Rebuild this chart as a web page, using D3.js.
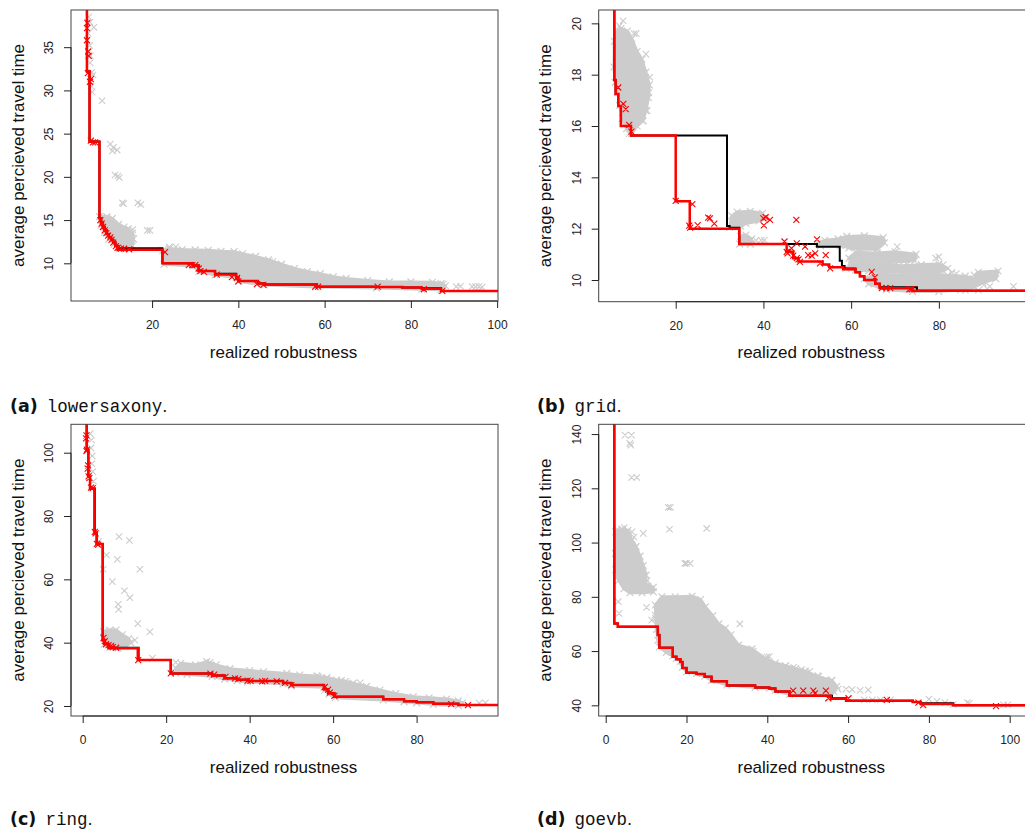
<!DOCTYPE html>
<html>
<head>
<meta charset="utf-8">
<script src="https://cdn.jsdelivr.net/npm/d3@7"></script>
<style>
  html, body { margin: 0; padding: 0; background: #fff; }
  svg { display: block; }
  .tick text { font-family: "Liberation Sans", Arial, sans-serif; font-size: 12px; fill: #222; }
</style>
</head>
<body>
<svg id="fig" width="1025" height="834"></svg>
<script>
// ---------- (a) lowersaxony ----------
const aRed = [[4.9,45],[4.9,32.2],[5.5,24.07],[7.8,15.2],[8.2,14.7],[8.6,14.2],[9.0,13.8],[9.5,13.4],[10.0,13.0],[10.5,12.7],[11.0,12.4],[11.5,12.0],[12.0,11.58],[22.4,10.0],[29.5,9.75],[30.8,9.1],[34.6,8.7],[39.5,8.4],[40.0,7.95],[44.5,7.65],[46.0,7.55],[58.2,7.3],[72.0,7.25],[78.0,7.2],[82.5,7.05],[87.0,6.8],[105,6.8]];
const aBlack = [[4.9,45],[4.9,32.2],[5.5,24.1],[7.8,15.2],[8.2,14.7],[8.6,14.2],[9.0,13.8],[9.5,13.4],[10.0,13.0],[10.5,12.7],[11.0,12.4],[11.5,12.0],[12.0,11.75],[22.4,10.0],[29.5,9.75],[30.8,9.1],[34.6,8.78],[39.5,8.4],[40.0,7.95],[44.5,7.65],[46.0,7.55],[58.2,7.3],[72.0,7.25],[78.0,7.2],[82.5,7.12],[87.0,6.8],[105,6.8]];
const aRedPts = [[5.0,37.8],[4.9,37.2],[4.9,35.8],[5.2,34.5],[5.3,34.0],[5.1,32.0],[5.6,31.0],[5.8,31.3],[5.8,24.2],[6.3,24.0],[6.8,24.0],[8.0,15.0],[8.3,14.6],[8.6,14.2],[9.0,13.8],[9.4,13.5],[9.8,13.2],[10.3,13.0],[10.6,12.7],[11.0,12.4],[11.6,12.0],[12.0,11.8],[12.8,11.7],[13.5,11.7],[14.7,11.6],[23.0,11.3],[28.5,9.8],[29.3,9.8],[30.0,9.8],[30.8,9.4],[31.2,9.1],[32.0,9.0],[35.0,8.7],[38.5,8.4],[39.7,8.3],[40.0,7.9],[44.3,7.6],[45.8,7.5],[57.8,7.3],[58.5,7.3],[72.3,7.3],[83.0,7.0],[87.3,6.8]];
const aGray = [[5.3,38.5],[5.6,37.9],[6.5,37.3],[5.2,36.6],[5.5,35.2],[5.7,34.0],[5.6,33.2],[6.0,32.1],[6.3,31.8],[5.9,30.5],[6.1,29.8],[8.4,28.8],[10.3,23.8],[11.0,23.4],[10.8,23.0],[11.9,23.1],[11.4,20.2],[12.1,20.1],[12.4,19.9],[13.1,17.0],[13.4,16.9],[16.7,17.0],[17.4,16.8],[18.9,13.8],[19.5,13.8],[15.5,13.9],[15.0,13.7],[47.2,10.2],[48.0,10.2],[24.0,11.9],[25.5,11.9],[83.5,7.3],[86.8,7.5],[87.5,7.6],[90.5,7.3],[91.5,7.35],[94.2,7.3],[95.0,7.3],[95.8,7.3],[96.5,7.25],[13.0,13.8]];
const aClouds = [
  [[7.8,15.4],[9.5,15.4],[10.8,15.2],[12.2,14.5],[13.5,14.2],[14.5,14.0],[15.5,13.5],[15.7,12.8],[15.4,12.0],[14.5,11.7],[12.5,11.7],[11.2,12.2],[10.0,12.8],[9.0,13.6],[8.2,14.4]],
  [[22.5,11.5],[24,11.7],[27,11.6],[30,11.55],[33,11.5],[36,11.4],[39,11.35],[41,11.1],[44,10.8],[47,10.4],[50,9.9],[53,9.4],[56,9.05],[59,8.8],[62,8.45],[65,8.25],[70,8.0],[75,7.85],[80,7.85],[85,7.8],[87,7.65],[88,7.4],[87,6.9],[82.5,7.0],[72,7.15],[58,7.25],[46,7.5],[44.5,7.6],[40,7.9],[39.5,8.35],[34.6,8.65],[30.8,9.05],[29.5,9.7],[22.8,9.9]]
];

// ---------- (b) grid ----------
const bRed = [[6.0,22],[6.0,17.79],[6.3,17.25],[6.9,16.78],[7.5,16.0],[9.8,15.63],[20.0,13.07],[23.2,12.0],[34.5,11.4],[45.3,11.1],[46.8,10.85],[48.0,10.72],[53.5,10.6],[55.0,10.5],[58.2,10.42],[61.0,10.3],[62.0,10.15],[63.0,10.0],[65.5,9.85],[66.5,9.68],[74.0,9.58],[105,9.58]];
const bBlack = [[6.0,22],[6.0,17.79],[6.3,17.25],[6.9,16.78],[7.5,16.0],[9.8,15.63],[31.7,12.1],[32.3,12.04],[34.5,11.4],[52.2,11.3],[57.4,10.75],[57.9,10.55],[58.5,10.45],[61.0,10.3],[62.0,10.15],[63.0,10.0],[65.5,9.85],[66.5,9.72],[75.0,9.58],[105,9.58]];
const bRedPts = [[6.9,17.5],[8.05,16.86],[8.6,16.66],[9.4,16.04],[9.9,15.78],[20.0,13.08],[23.8,12.96],[23.1,12.12],[23.3,12.04],[25.0,12.14],[27.4,12.43],[27.8,12.4],[28.8,12.2],[40.0,12.4],[40.5,12.45],[41.5,12.34],[40.1,12.13],[44.8,11.5],[45.5,11.04],[45.3,11.1],[46.4,11.23],[47.6,11.43],[47.6,10.85],[48.3,10.71],[49.5,11.3],[50.2,10.97],[51.0,10.95],[51.8,11.04],[52.2,11.58],[52.9,10.65],[54.2,10.97],[55.2,10.45],[47.5,12.34],[46.8,10.95],[48.0,10.8],[64.7,10.32],[65.4,10.1],[67.0,9.68],[68.0,9.68],[68.9,9.68],[73.3,9.64],[73.8,9.64]];
const bGray = [[8.0,20.1],[7.2,19.9],[10.5,19.6],[11.0,19.6],[13.2,18.8],[14.1,17.9],[13.9,17.3],[13.5,16.6],[12.6,16.2],[6.4,19.2],[9.4,15.7],[38.3,11.55],[39.5,11.55],[40.2,11.55],[70.5,11.3],[73.0,10.65],[77.5,10.4],[79.3,10.85],[80.0,10.9],[81.0,10.6],[83.0,10.3],[84.0,10.25],[88.0,10.2],[90.2,9.8],[91.6,9.75],[97.0,9.75],[80.5,10.2],[86.0,9.6],[89.0,9.6],[76.0,9.7]];
const bClouds = [
  [[6.0,19.3],[6.6,19.7],[7.5,19.8],[9.0,19.7],[10.0,19.4],[11.2,18.9],[12.3,18.6],[13.2,18.1],[14.0,17.6],[13.8,17.1],[13.2,16.6],[12.5,16.2],[11.2,16.0],[10.0,15.7],[8.8,15.9],[7.8,16.3],[7.2,16.8],[6.8,17.3],[6.2,17.7],[5.9,18.3]],
  [[32.3,12.05],[32.8,12.5],[34,12.65],[37,12.68],[39.8,12.6],[40.3,12.4],[39,12.3],[36,12.2],[34.8,12.1]],
  [[34.6,11.4],[34.8,11.7],[36,11.75],[37.3,11.6],[37,11.4]],
  [[52.5,11.42],[54,11.55],[57,11.6],[59,11.7],[63,11.72],[67.3,11.65],[67.6,11.45],[66,11.2],[62,11.2],[59.5,11.25],[57.5,11.35],[53,11.33]],
  [[59.5,10.85],[61,11.08],[66,11.05],[70,11.1],[74.8,11.0],[74.5,10.75],[70,10.7],[64,10.78],[60,10.72]],
  [[58.8,10.45],[60,10.6],[63,10.68],[68,10.62],[72,10.55],[76,10.6],[80,10.62],[82,10.45],[80,10.3],[72,10.3],[64,10.35],[61,10.38]],
  [[63,10.05],[66,10.22],[72,10.2],[78,10.22],[82,10.18],[86,10.15],[88,10.05],[89,10.3],[93.5,10.35],[93,10.05],[90,9.9],[88,9.72],[85,9.62],[80,9.55],[74,9.55],[68,9.62],[64,9.85]]
];

// ---------- (c) ring ----------
const cRed = [[0.96,120],[0.96,100.8],[1.35,92.4],[1.75,88.7],[2.8,74.5],[3.35,71.2],[4.8,40.8],[5.2,39.6],[6.2,38.2],[13.2,34.5],[21.1,30.3],[31.0,29.6],[34.0,28.8],[37.0,28.3],[39.5,27.9],[48.0,27.3],[50.0,26.6],[57.8,25.3],[58.8,24.0],[60.3,22.9],[72.0,22.1],[77.0,21.5],[80.0,21.2],[84.0,20.7],[90.0,20.3],[105,20.3]];
const cBlack = [[0.96,120],[0.96,100.8],[1.35,92.4],[1.75,88.7],[2.9,74.8],[3.35,71.2],[4.8,40.8],[5.2,39.6],[6.2,38.4],[13.4,34.5],[21.1,30.3],[31.0,29.6],[34.0,28.8],[37.0,28.3],[39.5,27.9],[48.0,27.3],[50.0,26.6],[57.8,25.3],[58.8,24.0],[60.3,22.9],[72.0,22.1],[77.0,21.5],[80.0,21.2],[84.0,20.7],[90.0,20.3],[105,20.3]];
const cRedPts = [[0.9,105.5],[0.8,104.5],[1.0,101],[0.9,100.5],[1.3,96],[1.2,95],[1.4,92.5],[1.6,92],[2.0,89],[2.4,88.8],[2.9,75],[3.1,74.5],[3.4,71.2],[3.7,71],[5.0,41.5],[5.3,40.5],[5.6,39.5],[6.2,39.2],[6.8,39.0],[7.2,38.6],[8.0,38.4],[13.3,34.5],[21.1,30.3],[30.6,30.2],[31.5,29.9],[34.2,29.2],[36.5,28.7],[37.3,28.6],[39.5,28.0],[40.2,27.9],[43.0,27.8],[43.7,27.9],[46.5,27.8],[48.5,27.3],[50.0,26.6],[58.0,26.0],[58.8,25.2],[59.2,24.2],[60.3,23.2],[88.3,20.6],[92.3,20.3]];
const cGray = [[1.8,106],[2.1,104],[2.0,101.5],[2.3,99],[2.2,96.5],[2.4,94],[2.6,91],[8.7,73.5],[11.2,72.3],[8.3,66.3],[5.7,67.7],[13.7,63.2],[4.9,63.2],[7.1,59.3],[10.0,56.4],[11.3,54.2],[8.5,52.1],[8.6,50.5],[13.2,46.0],[16.1,43.4],[12.5,40.8],[16.7,35.1],[22.3,33.8],[3.9,72.0],[30.5,33.8],[56.5,29.3],[58.5,28.8],[62.0,28.1],[66.5,27.3],[77.0,21.5],[80.0,21.5],[83.5,22.0],[87.0,21.6],[95.0,20.9],[96.5,21.0]];
const cClouds = [
  [[5,43.5],[6.5,44],[8,44],[9.5,42.5],[11,41.3],[11.5,40],[10.5,39.0],[8.5,38.3],[6.5,38.5],[5.2,39.5]],
  [[22.3,32.0],[23.5,33.5],[27,33.0],[29.7,34.0],[32,33.0],[35.3,31.8],[40,31.2],[43.3,30.8],[48.9,30.3],[52,29.8],[56.1,29.5],[58.5,29.0],[60.8,28.2],[63,27.8],[64.8,27.2],[68,26.2],[71.2,25.05],[75,23.9],[79.2,22.9],[83,22.6],[87.2,22.2],[90,21.6],[91,21.0],[90,20.1],[84,20.5],[80,21.0],[77,21.3],[72,21.9],[60.5,22.6],[59,23.7],[58,25.0],[57.8,25.9],[50,26.3],[48,27.0],[39.5,27.6],[37,28.0],[34,28.5],[31,29.3],[25,30.0],[22.3,30.4]]
];

// ---------- (d) goevb ----------
const dRed = [[2.13,160],[2.13,70.2],[3.0,69.0],[12.9,65.9],[13.3,61.2],[16.6,57.9],[17.5,57.0],[18.5,56.0],[19.0,53.8],[20.0,52.0],[22.5,51.5],[24.5,50.5],[26.2,48.9],[30.0,47.3],[37.0,46.6],[40.5,46.2],[42.0,45.1],[45.5,43.5],[55.7,42.4],[59.5,41.7],[76.0,41.2],[78.0,40.5],[86.0,40.0],[110,40.0]];
const dBlack = [[2.13,160],[2.13,70.2],[3.0,69.0],[12.9,65.9],[13.3,61.2],[16.6,57.9],[17.5,57.0],[18.5,56.0],[19.0,53.8],[20.0,52.0],[22.5,51.5],[24.5,50.5],[26.2,48.9],[30.0,47.3],[37.0,46.6],[40.5,46.2],[42.0,45.1],[45.5,43.5],[56.0,42.6],[59.5,41.7],[76.0,41.2],[78.0,40.8],[86.0,40.0],[110,40.0]];
const dRedPts = [[46.4,45.4],[48.9,45.4],[51.4,45.4],[51.8,44.4],[54.5,45.4],[55.1,42.6],[60.1,42.6],[69.6,42.0],[77.4,41.0],[78.6,40.1],[96.6,39.7]];
const dGray = [[4.8,139.6],[6.4,139.6],[6.0,136.6],[6.2,135.9],[6.4,124.0],[7.7,124.0],[15.5,113.0],[16.0,113.0],[15.8,104.9],[25.0,105.2],[19.6,92.3],[20.0,92.3],[20.9,92.3],[9.3,103.4],[3.1,78.2],[3.3,73.9],[10.1,76.1],[11.4,71.4],[12.2,73.3],[33.2,70.0],[35.3,60.4],[36.5,60],[39.9,57.9],[40.5,58],[32.5,61.7],[44.5,54.5],[46.5,54],[48.5,53.2],[50.5,52.5],[52.5,51],[54.5,49.5],[55.8,49],[57.5,46],[59.5,46],[61,45.8],[63,45.5],[65,45.7],[64,42.0],[66,42.0],[68,42.0],[70.5,42.0],[80,42.3],[82,41.5],[84,41.0],[86,40.3],[89.5,41.0],[90,40.7],[98.5,40.2],[99.5,40.2],[9.5,88],[10.2,86],[10.5,84],[2.8,104.8],[4.6,105.5],[6.5,104],[7.0,102]];
const dClouds = [
  [[2.5,104],[4.0,105],[5.5,104.5],[6.5,101],[7.5,98.5],[8.5,95],[9.3,91.5],[10,88],[9.8,85],[11.8,83.5],[11.8,81.8],[9,81.5],[6,81.5],[4.5,83],[3.2,86],[2.5,90],[2.4,96]],
  [[12.3,77],[13.9,80],[17.2,80],[21.4,80.2],[23.5,79],[24.7,76.3],[26.5,73],[28,70],[29.6,68.4],[31,66],[32.9,62.2],[36.2,60.8],[39.5,57.3],[42,55.6],[44.5,54.6],[47,53.5],[49.4,52.6],[52.7,50.5],[56,49.2],[57.2,47],[56.5,45],[55.7,43.5],[45.5,44],[42,45.5],[40.5,46.3],[37,46.6],[30,47.5],[26.2,49.2],[24.5,50.7],[22.5,51.7],[20,52.3],[19,54.1],[18.5,56.2],[17.5,57.3],[16.6,58.2],[15,59.5],[13.3,61.5],[12.9,64],[12.6,68],[12.4,72]]
];

// axis ticks and captions
const ticksA = { x: [20,40,60,80,100], y: [10,15,20,25,30,35] };
const ticksB = { x: [20,40,60,80], y: [10,12,14,16,18,20] };
const ticksC = { x: [0,20,40,60,80], y: [20,40,60,80,100] };
const ticksD = { x: [0,20,40,60,80,100], y: [40,60,80,100,120,140] };
const captions = [["(a)", "lowersaxony"], ["(b)", "grid"], ["(c)", "ring"], ["(d)", "goevb"]];
const xTitle = "realized robustness";
const yTitle = "average percieved travel time";

const svg = d3.select("#fig");
svg.append("rect").attr("width", 1025).attr("height", 834).attr("fill", "#fff");

const GRAY = "#cccccc";

function crossPath(cx, cy, r) {
  return `M${cx - r},${cy - r}L${cx + r},${cy + r}M${cx - r},${cy + r}L${cx + r},${cy - r}`;
}

function panel(id, box, xDom, yDom, ticks, clouds, gray, black, red, redPts, cap, capPos) {
  const g = svg.append("g");
  const x = d3.scaleLinear().domain(xDom).range([box.left, box.right]);
  const y = d3.scaleLinear().domain(yDom).range([box.bottom, box.top]);

  g.append("clipPath").attr("id", "clip" + id)
    .append("rect").attr("x", box.left).attr("y", box.top)
    .attr("width", box.right - box.left).attr("height", box.bottom - box.top);
  const plot = g.append("g").attr("clip-path", `url(#clip${id})`);

  // dense gray clouds of candidate solutions
  const area = d3.line().x(d => x(d[0])).y(d => y(d[1])).curve(d3.curveLinearClosed);
  plot.selectAll(".cloud").data(clouds).join("path")
    .attr("d", area).attr("fill", GRAY).attr("stroke", GRAY)
    .attr("stroke-width", 3).attr("stroke-linejoin", "round");
  const edgePts = clouds.flat();
  plot.append("path")
    .attr("d", edgePts.map(d => crossPath(x(d[0]), y(d[1]), 3.4)).join(""))
    .attr("stroke", GRAY).attr("stroke-width", 1.2).attr("fill", "none");
  plot.append("path")
    .attr("d", gray.map(d => crossPath(x(d[0]), y(d[1]), 3.2)).join(""))
    .attr("stroke", GRAY).attr("stroke-width", 1.1).attr("fill", "none");

  // step fronts
  const step = d3.line().x(d => x(d[0])).y(d => y(d[1])).curve(d3.curveStepAfter);
  plot.append("path").attr("d", step(black)).attr("fill", "none")
    .attr("stroke", "#000").attr("stroke-width", 2);
  plot.append("path").attr("d", step(red)).attr("fill", "none")
    .attr("stroke", "#ff0000").attr("stroke-width", 2.5);
  plot.append("path")
    .attr("d", redPts.map(d => crossPath(x(d[0]), y(d[1]), 3)).join(""))
    .attr("stroke", "#ff0000").attr("stroke-width", 1.1).attr("fill", "none");

  // frame
  g.append("rect").attr("x", box.left).attr("y", box.top)
    .attr("width", box.right - box.left).attr("height", box.bottom - box.top)
    .attr("fill", "none").attr("stroke", "#444").attr("stroke-width", 1);

  // axes
  const ax = g.append("g").attr("transform", `translate(0,${box.bottom})`)
    .call(d3.axisBottom(x).tickValues(ticks.x).tickSize(7).tickSizeOuter(0).tickFormat(d3.format("d")));
  ax.select(".domain").remove();
  ax.append("line").attr("x1", x(ticks.x[0])).attr("x2", x(ticks.x[ticks.x.length - 1]))
    .attr("stroke", "#222");
  ax.selectAll(".tick line").attr("stroke", "#222");
  ax.selectAll(".tick text").attr("y", 24).attr("dy", null).attr("dominant-baseline", "central");

  const ay = g.append("g").attr("transform", `translate(${box.left},0)`)
    .call(d3.axisLeft(y).tickValues(ticks.y).tickSize(7).tickSizeOuter(0).tickFormat(d3.format("d")));
  ay.select(".domain").remove();
  ay.append("line").attr("y1", y(ticks.y[0])).attr("y2", y(ticks.y[ticks.y.length - 1]))
    .attr("stroke", "#222");
  ay.selectAll(".tick line").attr("stroke", "#222");
  ay.selectAll(".tick text").attr("x", null).attr("dy", null)
    .attr("transform", "translate(-22,0) rotate(-90)")
    .attr("text-anchor", "middle").attr("dominant-baseline", "central");

  // axis titles
  g.append("text").attr("x", (box.left + box.right) / 2 - 1).attr("y", box.bottom + 51)
    .attr("text-anchor", "middle").attr("dominant-baseline", "central")
    .attr("font-family", "Liberation Sans, Arial, sans-serif").attr("font-size", 17).attr("fill", "#111")
    .text(xTitle);
  g.append("text")
    .attr("transform", `translate(${box.left - 53},${(box.top + box.bottom) / 2}) rotate(-90)`)
    .attr("text-anchor", "middle").attr("dominant-baseline", "central")
    .attr("font-family", "Liberation Sans, Arial, sans-serif").attr("font-size", 17).attr("fill", "#111")
    .text(yTitle);

  // caption
  const t = svg.append("text").attr("x", capPos[0]).attr("y", capPos[1]).attr("fill", "#111");
  t.append("tspan").attr("font-family", "DejaVu Sans, sans-serif").attr("font-weight", "bold")
    .attr("font-size", 17.5).text(cap[0]);
  t.append("tspan").attr("dx", 9).attr("font-family", "Liberation Mono, monospace")
    .attr("font-size", 17.5).text(cap[1]);
  t.append("tspan").attr("font-family", "DejaVu Serif, serif").attr("font-size", 16).text(".");
}

panel("a", { left: 71, right: 498, top: 10, bottom: 301 }, [1.2, 100.2], [5.64, 39.3], ticksA,
  aClouds, aGray, aBlack, aRed, aRedPts, captions[0], [10, 412]);
panel("b", { left: 598.7, right: 1025.7, top: 10, bottom: 301.7 }, [2.44, 99.8], [9.155, 20.52], ticksB,
  bClouds, bGray, bBlack, bRed, bRedPts, captions[1], [537, 412]);
panel("c", { left: 71, right: 498, top: 424.3, bottom: 716 }, [-2.8, 99.5], [16.84, 108.97], ticksC,
  cClouds, cGray, cBlack, cRed, cRedPts, captions[2], [10, 825]);
panel("d", { left: 598.7, right: 1025.7, top: 424.3, bottom: 716 }, [-1.73, 103.96], [36.06, 143.6], ticksD,
  dClouds, dGray, dBlack, dRed, dRedPts, captions[3], [537, 825]);
</script>
</body>
</html>
